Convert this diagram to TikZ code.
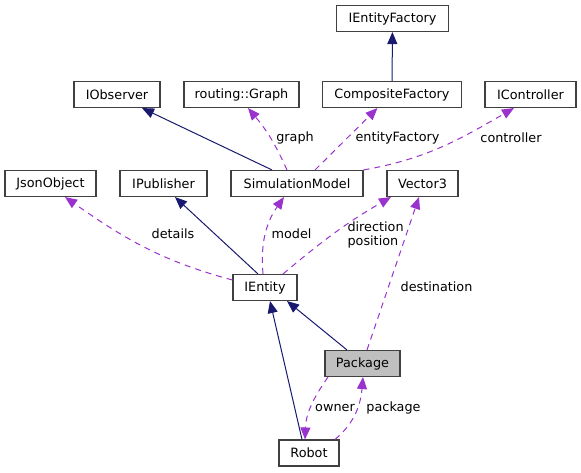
\documentclass[tikz,border=0pt]{standalone}
\usepackage{fontspec}
\setmainfont{DejaVu Sans}
\usetikzlibrary{arrows.meta,positioning}
\definecolor{inhblue}{HTML}{191970}
\definecolor{usepurple}{HTML}{9A32CD}
\definecolor{boxgrey}{HTML}{BFBFBF}

\begin{document}
\begin{tikzpicture}[x=1pt,y=1pt,every node/.style={draw=black!75,line width=1.1pt,
fill=white,rectangle,minimum height=26pt,inner sep=0pt,font=\fontsize{12.8}{14}\selectfont},
lbl/.style={draw=none,fill=none,minimum height=0pt,inner sep=1pt,align=left},
inh/.style={draw=inhblue,line width=1pt,-{Triangle[length=12pt,width=10pt]}},
uses/.style={draw=usepurple,line width=1pt,dash pattern=on 6pt off 5pt,-{Triangle[length=12pt,width=10pt]}}]
\useasboundingbox (0,0) rectangle (581,-472);

\node[minimum width=112pt] (ief) at (392.5,-18.5) {IEntityFactory};
\node[minimum width=86pt] (obs) at (117,-94.5) {IObserver};
\node[minimum width=115pt] (graph) at (241.5,-94.5) {routing::Graph};
\node[minimum width=139pt] (cf) at (392,-94.5) {CompositeFactory};
\node[minimum width=91pt] (ctrl) at (530.5,-94.5) {IController};
\node[minimum width=91pt] (json) at (50.5,-183.5) {JsonObject};
\node[minimum width=87pt] (pub) at (163.5,-183.5) {IPublisher};
\node[minimum width=132pt] (sim) at (297,-183.5) {SimulationModel};
\node[minimum width=71pt] (vec) at (422.5,-183.5) {Vector3};
\node[minimum width=64pt] (ent) at (265,-287.5) {IEntity};
\node[minimum width=75pt,fill=boxgrey] (pkg) at (362.5,-363.5) {Package};
\node[minimum width=60pt] (robot) at (309,-453) {Robot};

% member names
\node[lbl] (lgraph) at (295,-138) {graph};
\node[lbl] (lfac) at (397.5,-138) {entityFactory};
\node[lbl] (lctrl) at (511,-138) {controller};
\node[lbl] (ldet) at (173,-234) {details};
\node[lbl] (lmodel) at (291.5,-234) {model};
\node[lbl,anchor=west] (lvec) at (346,-235) {direction\\position};
\node[lbl] (ldest) at (436.5,-287) {destination};
\node[lbl] (lown) at (335,-408) {owner};
\node[lbl] (lpkg) at (393.5,-408) {package};

% inheritance
\draw[inh] (cf) -- (ief);
\draw[inh] ([xshift=-25pt]sim.north) -- ([xshift=25pt]obs.south);
\draw[inh] ([xshift=-7pt]ent.north) -- ([xshift=11.5pt]pub.south);
\draw[inh] ([xshift=-15.5pt]pkg.north) -- ([xshift=22pt]ent.south);
\draw[inh] ([xshift=-7pt]robot.north) -- ([xshift=5pt]ent.south);

% usage
\draw[uses] ([xshift=-10pt]sim.north) to[bend right=8] ([xshift=6.5pt]graph.south);
\draw[uses] ([xshift=18pt]sim.north) -- ([xshift=-14.5pt]cf.south);
\draw[uses] (sim.north east) to[out=10,in=-150] ([xshift=-16.5pt]ctrl.south);
\draw[uses] ([yshift=7.5pt]ent.west) to[out=165,in=-35] ([xshift=14.5pt]json.south);
\draw[uses] ([xshift=-2pt]ent.north) to[out=95,in=-125] ([xshift=-13pt]sim.south);
\draw[uses] ([xshift=18pt]ent.north) to[out=40,in=-150] ([xshift=-31.5pt]vec.south);
\draw[uses] ([xshift=4.5pt]pkg.north) -- ([xshift=-3.5pt]vec.south);
\draw[uses] ([xshift=-34.5pt]pkg.south) to[out=-125,in=88] ([xshift=-4pt]robot.north);
\draw[uses] ([xshift=26pt]robot.north) to[out=40,in=-95] ([xshift=0.5pt]pkg.south);
\end{tikzpicture}
\end{document}
